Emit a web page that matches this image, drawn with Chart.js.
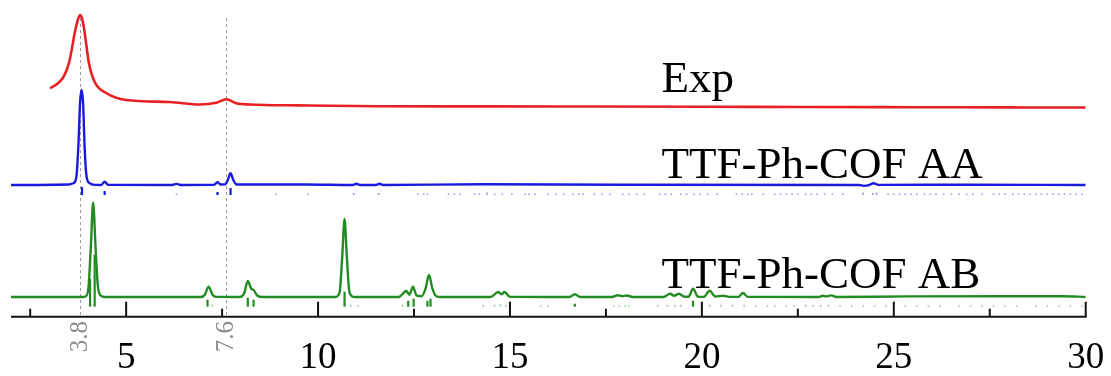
<!DOCTYPE html>
<html>
<head>
<meta charset="utf-8">
<script src="https://cdn.jsdelivr.net/npm/chart.js@4/dist/chart.umd.min.js"></script>
<style>
  html, body { margin: 0; padding: 0; background: #fff; }
  #wrap { width: 1111px; height: 376px; position: relative; }
</style>
</head>
<body>
<div id="wrap"><canvas id="xrd"></canvas></div>
<script>
// 2theta (deg) / intensity (a.u., traces already stacked)
const expX = [3.02, 3.2, 3.35, 3.45, 3.53, 3.66, 3.74, 3.80, 3.86, 3.92, 4.03, 4.18, 4.48, 5.0, 6.13, 6.92, 7.35, 7.61, 7.87, 8.22, 9.5, 11.6, 14.5, 17.3, 20.0, 22.6, 25.5, 28.0, 30.0];
const expY = [228.4, 232.7, 238.7, 246.7, 256.7, 283.7, 296.7, 301.7, 297, 283.7, 253.7, 234.7, 223.7, 216.7, 214.7, 212.2, 214, 217.4, 213.4, 212.2, 211.3, 210.4, 210.3, 210.2, 210, 209.7, 209.5, 209.3, 209.2];

const aaX = [2.0, 3.5, 3.62, 3.70, 3.76, 3.80, 3.84, 3.88, 3.92, 3.97, 4.05, 4.2, 4.35, 4.44, 4.53, 6.2, 6.31, 6.42, 7.28, 7.38, 7.46, 7.58, 7.65, 7.72, 7.79, 7.88, 9.69, 10.9, 11.0, 11.1, 11.5, 11.6, 11.7, 14.3, 18.0, 24.1, 24.22, 24.35, 24.47, 24.6, 27.0, 30.0];
const aaY = [131.7, 132.2, 133.5, 139, 175, 215, 226.7, 212, 168, 140, 133.5, 131.8, 131.7, 135, 131.8, 131.7, 132.8, 131.7, 131.8, 134.4, 132.2, 132.3, 137, 143.4, 137, 132.2, 132.2, 131.7, 133, 131.7, 131.7, 133, 131.7, 132.5, 132, 131.7, 130.8, 131.5, 133.5, 131.8, 132, 131.7];

const abX = [2.0, 3.85, 3.95, 4.02, 4.08, 4.14, 4.2, 4.26, 4.33, 4.45, 6.95, 7.05, 7.15, 7.25, 7.35, 7.95, 8.07, 8.17, 8.26, 8.32, 8.42, 8.55, 10.45, 10.56, 10.63, 10.69, 10.75, 10.82, 10.95, 12.1, 12.3, 12.38, 12.47, 12.57, 12.7, 12.8, 12.89, 12.98, 13.08, 13.2, 14.5, 14.69, 14.78, 14.86, 15.0, 16.55, 16.69, 16.83, 17.65, 17.81, 17.93, 18.04, 18.2, 19.0, 19.17, 19.28, 19.4, 19.55, 19.65, 19.77, 19.9, 20.05, 20.2, 20.35, 20.55, 20.75, 20.95, 21.07, 21.2, 23.05, 23.15, 23.25, 23.37, 23.5, 25.4, 29.37, 30.0];
const abY = [19.7, 19.7, 20.5, 30, 70, 114, 72, 32, 21.5, 19.7, 19.7, 22, 30, 22, 19.8, 19.7, 23, 35.7, 28, 26.7, 21, 19.7, 19.7, 24, 60, 97.7, 60, 24, 19.7, 19.7, 25.7, 22, 30, 21, 20.5, 28, 41.7, 28, 20.5, 19.7, 19.7, 24.7, 22.5, 24.7, 19.8, 19.7, 22.5, 19.7, 19.7, 21.5, 20.5, 21.2, 19.7, 19.7, 23, 21, 23, 20, 20, 28, 20, 19.8, 26, 20.2, 21, 19.8, 19.8, 23.7, 19.8, 19.7, 21, 20.3, 21.3, 19.7, 20.3, 20.5, 19.7];

// reflection positions (sticks) and their heights
const aaStickPos = [3.85, 4.44, 6.31, 7.38, 7.72, 8.91, 9.74, 10.93, 11.58, 12.6, 12.75, 12.85, 13.4, 13.55, 13.7, 14.08, 14.2, 14.4, 14.6, 14.8, 15.05, 15.4, 15.5, 15.65, 15.99, 16.2, 16.4, 16.64, 16.8, 16.9, 17.2, 17.4, 17.6, 17.94, 18.1, 18.3, 18.5, 18.9, 19.05, 19.2, 19.45, 19.6, 19.8, 19.95, 20.15, 20.4, 20.9, 21.05, 21.2, 21.3, 21.6, 21.9, 22.05, 22.2, 22.35, 22.5, 22.7, 22.85, 23.0, 23.2, 23.4, 23.67, 24.2, 24.45, 24.55, 24.85, 25.0, 25.15, 25.3, 25.45, 25.6, 25.8, 25.95, 26.1, 26.3, 26.5, 26.7, 26.9, 27.06, 27.3, 27.6, 27.75, 27.9, 28.1, 28.25, 28.4, 28.55, 28.7, 28.85, 29.0, 29.15, 29.3, 29.45, 29.6, 29.75, 29.9];
const aaStickH = [8, 4, 1.5, 3, 7, 1.5, 1.5, 2, 2, 1.5, 1.5, 1.5, 1.5, 1.5, 1.5, 1.5, 1.5, 2.5, 1.5, 1.5, 1.5, 1.5, 1.5, 1.5, 1.5, 1.5, 1.5, 1.5, 1.5, 1.5, 1.5, 1.5, 1.5, 1.5, 1.5, 1.5, 1.5, 1.5, 1.5, 1.5, 1.5, 1.5, 1.5, 1.5, 1.5, 1.5, 1.5, 1.5, 1.5, 1.5, 1.5, 1.5, 1.5, 1.5, 1.5, 1.5, 1.5, 1.5, 1.5, 1.5, 1.5, 1.5, 2.5, 2, 2.5, 1.5, 1.5, 1.5, 1.5, 1.5, 1.5, 1.5, 1.5, 1.5, 1.5, 1.5, 1.5, 1.5, 1.5, 1.5, 1.5, 1.5, 1.5, 1.5, 1.5, 1.5, 1.5, 1.5, 1.5, 1.5, 1.5, 1.5, 1.5, 1.5, 1.5, 1.5];

const abStickPos = [4.06, 4.18, 7.12, 7.25, 8.17, 8.32, 10.69, 10.85, 11.04, 12.2, 12.35, 12.49, 12.85, 12.93, 14.3, 14.6, 14.75, 14.9, 15.0, 15.8, 16.0, 16.69, 17.7, 17.85, 18.0, 18.1, 18.85, 19.1, 19.3, 19.45, 19.77, 20.2, 20.5, 20.8, 21.1, 21.4, 21.7, 21.9, 22.2, 22.4, 22.7, 22.9, 23.1, 23.3, 23.6, 23.9, 24.2, 24.5, 24.8, 25.0, 25.3, 25.6, 25.9, 26.2, 26.7, 27.0, 27.3, 27.6, 27.9, 28.2, 28.7, 29.0, 29.3, 29.6, 29.9];
const abStickH = [28, 52, 7, 2, 9, 7, 15, 2, 2, 2, 6, 8, 6, 8, 2, 2, 2.5, 2, 2, 1.5, 1.5, 3, 1.5, 1.5, 1.5, 1.5, 2, 2, 2, 2, 6, 2, 2, 2, 2, 1.5, 1.5, 1.5, 1.5, 1.5, 2, 2, 2, 2, 1.5, 1.5, 1.5, 1.5, 1.5, 1.5, 1.5, 1.5, 1.5, 1.5, 1.5, 1.5, 1.5, 1.5, 1.5, 1.5, 1.5, 1.5, 1.5, 1.5, 1.5];

const tickLabelValues = [5, 10, 15, 20, 25, 30];
const majorTicks = [5, 10, 15, 20, 25, 30];
const minorTicks = [2.5, 7.5, 12.5, 17.5, 22.5, 27.5];
const refLines = [3.8, 7.6];
const seriesNames = ['Exp', 'TTF-Ph-COF AA', 'TTF-Ph-COF AB'];

const RED = 'rgb(232,32,36)';
const BLUE = 'rgb(26,26,222)';
const GREEN = 'rgb(34,140,34)';

const toPts = (xs, ys) => xs.map((x, i) => ({ x: x, y: ys[i] }));

const xrdDecor = {
    id: 'xrdDecor',
    beforeDatasetsDraw(chart) {
        const { ctx, scales: { x, y } } = chart;
        ctx.save();
        ctx.strokeStyle = '#9a9a9a';
        ctx.lineWidth = 1;
        ctx.setLineDash([3, 3]);
        refLines.forEach(v => {
            const px = Math.round(x.getPixelForValue(v)) + 0.5;
            ctx.beginPath();
            ctx.moveTo(px, y.getPixelForValue(298.7));
            ctx.lineTo(px, y.getPixelForValue(0));
            ctx.stroke();
        });
        ctx.restore();
    },
    afterDatasetsDraw(chart) {
        const { ctx, scales: { x, y } } = chart;
        ctx.save();

        // reflection sticks
        const sticks = (pos, h, base, color) => {
            pos.forEach((p, i) => {
                const px = x.getPixelForValue(p);
                ctx.strokeStyle = color;
                ctx.globalAlpha = h[i] >= 3 ? 1 : 0.45;
                ctx.lineWidth = h[i] >= 3 ? 2.2 : 1.6;
                ctx.beginPath();
                ctx.moveTo(px, y.getPixelForValue(base));
                ctx.lineTo(px, y.getPixelForValue(base + h[i]));
                ctx.stroke();
            });
            ctx.globalAlpha = 1;
        };
        sticks(aaStickPos, aaStickH, 121.7, BLUE);
        sticks(abStickPos, abStickH, 10, GREEN);

        // 2theta axis line with inward tick marks
        const axisY = y.getPixelForValue(0);
        ctx.strokeStyle = '#111';
        ctx.lineWidth = 2;
        ctx.beginPath();
        ctx.moveTo(x.getPixelForValue(2), axisY);
        ctx.lineTo(x.getPixelForValue(30) + 1, axisY);
        ctx.stroke();
        majorTicks.forEach(v => {
            const px = x.getPixelForValue(v);
            ctx.beginPath(); ctx.moveTo(px, axisY); ctx.lineTo(px, axisY - 15); ctx.stroke();
        });
        minorTicks.forEach(v => {
            const px = x.getPixelForValue(v);
            ctx.beginPath(); ctx.moveTo(px, axisY); ctx.lineTo(px, axisY - 8); ctx.stroke();
        });

        // tick labels
        ctx.fillStyle = '#000';
        ctx.font = "37px 'Liberation Serif'";
        ctx.textAlign = 'center';
        ctx.textBaseline = 'middle';
        tickLabelValues.forEach(v => ctx.fillText(String(v), x.getPixelForValue(v), axisY + 42));

        // rotated labels of the dashed guides
        ctx.fillStyle = '#8c8c8c';
        ctx.font = "25px 'Liberation Serif'";
        refLines.forEach(v => {
            ctx.save();
            ctx.translate(x.getPixelForValue(v), axisY + 20);
            ctx.rotate(-Math.PI / 2);
            ctx.fillText(v.toFixed(1), 0, 0);
            ctx.restore();
        });

        // trace names
        ctx.fillStyle = '#000';
        ctx.font = "45px 'Liberation Serif'";
        ctx.textAlign = 'left';
        ctx.textBaseline = 'alphabetic';
        const nameY = [225, 138.7, 28.4];
        seriesNames.forEach((s, i) => ctx.fillText(s, x.getPixelForValue(18.95), y.getPixelForValue(nameY[i])));
        ctx.restore();
    }
};

new Chart(document.getElementById('xrd'), {
    type: 'line',
    data: {
        datasets: [
            { label: seriesNames[0], data: toPts(expX, expY), borderColor: RED, borderWidth: 2.6 },
            { label: seriesNames[1], data: toPts(aaX, aaY), borderColor: BLUE, borderWidth: 2.4 },
            { label: seriesNames[2], data: toPts(abX, abY), borderColor: GREEN, borderWidth: 2.4 }
        ]
    },
    options: {
        responsive: true, maintainAspectRatio: false, animation: false,
        parsing: false,
        elements: { point: { radius: 0 }, line: { cubicInterpolationMode: 'monotone', fill: false } },
        layout: { padding: { left: 11, right: 25.3, top: 10.7, bottom: 59.3 } },
        plugins: { legend: { display: false }, tooltip: { enabled: false } },
        scales: {
            x: { type: 'linear', min: 2, max: 30, display: false },
            y: { display: false, min: 0, max: 306 }
        }
    },
    plugins: [xrdDecor]
});
</script>
</body>
</html>
